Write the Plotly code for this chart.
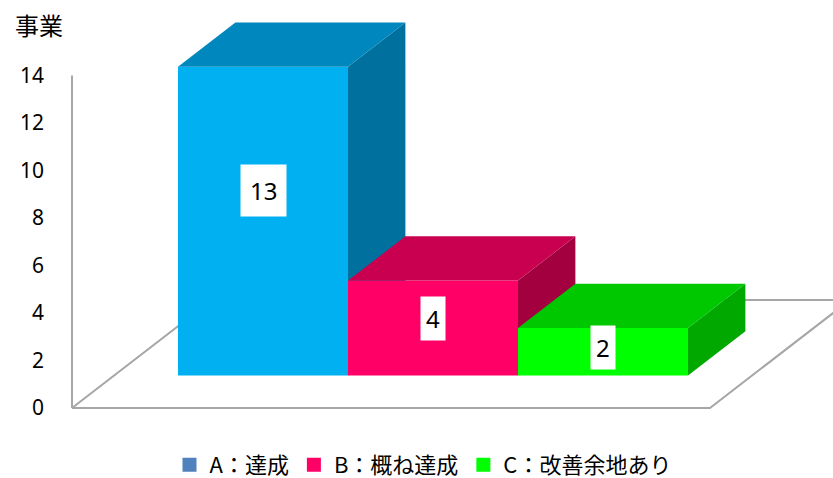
import plotly.graph_objects as go

# ---- data ----
categories = ["A：達成", "B：概ね達成", "C：改善余地あり"]
values = [13, 4, 2]
tick_vals = [0, 2, 4, 6, 8, 10, 12, 14]
y_title = "事業"

# ---- styles ----
front_colors = ["#00B0F0", "#FF0066", "#00FF00"]
top_colors = ["#0088BE", "#C9004F", "#00C800"]
side_colors = ["#00719E", "#A3003F", "#00A800"]
legend_colors = ["#4F81BD", "#FF0066", "#00FF00"]
label_pads = [9, 5, 5]

W, H = 833, 478
ML, MR, MT, MB = 55, 0, 15, 58
PX_X = 170.0      # px per category unit
PX_Y = 23.75      # px per value unit
ZERO_PX = 408     # pixel row of value 0
FIRST_BAR_PX = 178

# oblique depth (floor depth) in data units
DXu = 140 / PX_X
DYu = 108 / PX_Y
f0, f1 = 0.30, 0.71          # bar depth position (front, back) as fraction of floor depth
pad = 64 / PX_X              # floor margin beyond bars
b0 = f0 * DYu                # front-face baseline
ddx = (f1 - f0) * DXu
ddy = (f1 - f0) * DYu

plot_w = W - ML - MR
plot_h = H - MT - MB
x0 = -0.5 - (FIRST_BAR_PX - ML) / PX_X
xrange = [x0, x0 + plot_w / PX_X]
yrange = [(ZERO_PX - (H - MB)) / PX_Y, (ZERO_PX - MT) / PX_Y]

fig = go.Figure()

# floor + axis line (base subplot)
xL = -0.5 - f0 * DXu - pad
xR = (len(values) - 0.5) - f0 * DXu + pad
fig.add_trace(go.Scatter(
    x=[xL, xR, xR + DXu, xL + DXu, xL], y=[0, 0, DYu, DYu, 0],
    mode="lines", fill="toself", fillcolor="#FFFFFF",
    line=dict(color="#A6A6A6", width=2), hoverinfo="skip", showlegend=False,
    xaxis="x", yaxis="y"))
fig.add_trace(go.Scatter(
    x=[xL, xL], y=[0, max(tick_vals)], mode="lines",
    line=dict(color="#A6A6A6", width=2), hoverinfo="skip", showlegend=False,
    xaxis="x", yaxis="y"))

# each bar on its own overlaying subplot so later bars sit above earlier ones
for i, v in enumerate(values):
    xa = "x%d" % (i + 2)
    ya = "y%d" % (i + 2)
    # front face
    fig.add_trace(go.Bar(
        x=[i], y=[v], base=[b0], width=[1.0],
        marker=dict(color=front_colors[i], line=dict(width=0)),
        hoverinfo="skip", showlegend=False, xaxis=xa, yaxis=ya))
    top = b0 + v
    xl, xr = i - 0.5, i + 0.5
    # side face
    fig.add_trace(go.Scatter(
        x=[xr, xr, xr + ddx, xr + ddx, xr], y=[b0, top, top + ddy, b0 + ddy, b0],
        mode="lines", fill="toself", fillcolor=side_colors[i],
        line=dict(width=0, color=side_colors[i]), hoverinfo="skip", showlegend=False,
        xaxis=xa, yaxis=ya))
    # top face
    fig.add_trace(go.Scatter(
        x=[xl, xr, xr + ddx, xl + ddx, xl], y=[top, top, top + ddy, top + ddy, top],
        mode="lines", fill="toself", fillcolor=top_colors[i],
        line=dict(width=0, color=top_colors[i]), hoverinfo="skip", showlegend=False,
        xaxis=xa, yaxis=ya))

# legend entries
for i, c in enumerate(categories):
    fig.add_trace(go.Scatter(
        x=[None], y=[None], mode="markers", name=c,
        marker=dict(symbol="square", size=14, color=legend_colors[i]),
        xaxis="x", yaxis="y"))

# value labels
for i, v in enumerate(values):
    fig.add_annotation(
        x=i, y=b0 + 0.6 * v, xref="x4", yref="y4", text=str(v), showarrow=False,
        font=dict(family="Noto Sans", size=24, color="#000000"),
        bgcolor="#FFFFFF", borderpad=label_pads[i])

# axis title
fig.add_annotation(
    x=(13 - ML) / plot_w, y=(H - MB - 24) / plot_h, xref="paper", yref="paper",
    text=y_title, showarrow=False, xanchor="left", yanchor="middle",
    font=dict(family="Noto Sans CJK JP", size=24, color="#000000"))

hidden_x = dict(range=xrange, visible=False, fixedrange=True)
hidden_y = dict(range=yrange, visible=False, fixedrange=True)

layout_axes = dict(
    xaxis=dict(range=xrange, visible=False, fixedrange=True),
    yaxis=dict(range=yrange, tickvals=tick_vals, ticktext=[str(t) for t in tick_vals],
               showgrid=False, zeroline=False, showline=False, ticks="",
               ticklabelstandoff=10, fixedrange=True, automargin=False,
               tickfont=dict(family="Noto Sans", size=21, color="#000000")),
)
for k in range(2, len(values) + 2):
    layout_axes["xaxis%d" % k] = dict(hidden_x, overlaying="x")
    layout_axes["yaxis%d" % k] = dict(hidden_y, overlaying="y")

fig.update_layout(
    width=W, height=H,
    margin=dict(l=ML, r=MR, t=MT, b=MB, autoexpand=False),
    paper_bgcolor="#FFFFFF", plot_bgcolor="#FFFFFF",
    legend=dict(orientation="h", x=(423 - ML) / plot_w, xanchor="center",
                y=-(465 - (H - MB)) / plot_h, yanchor="middle",
                font=dict(family="Noto Sans CJK JP", size=22, color="#000000"),
                itemclick=False, itemdoubleclick=False),
    **layout_axes,
)

fig.write_html("out.html", config={"displayModeBar": False},
               post_script="document.body.style.margin='0';document.body.style.overflow='hidden';")
